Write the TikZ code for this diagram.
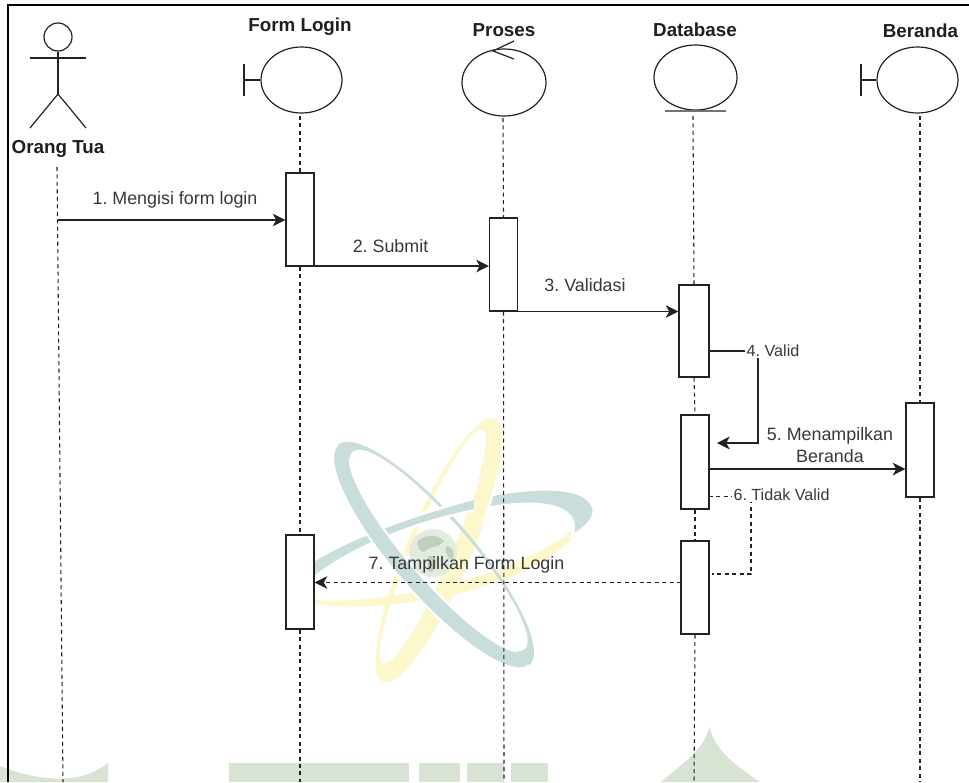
\documentclass[tikz,border=0pt]{standalone}
\usepackage{fontspec}
\setmainfont{Liberation Sans}
\usetikzlibrary{arrows.meta,shapes.geometric}
\definecolor{wmteal}{HTML}{CADDDD}
\definecolor{wmyellow}{HTML}{FDF7CC}
\definecolor{wmgreen}{HTML}{D7E3D3}
\definecolor{wmgreenb}{HTML}{BFD1BA}
\definecolor{inkline}{HTML}{222222}
\tikzset{
  x=0.75pt,y=-0.75pt,
  shapeline/.style={draw=inkline,line width=0.9pt},
  ent/.style={shape=ellipse,shapeline,inner sep=0pt},
  act/.style={shape=rectangle,shapeline,fill=white,inner sep=0pt,minimum width=21pt},
  head/.style={font=\fontsize{14.1}{16}\selectfont\bfseries,text=black!88,inner sep=0pt},
  lbl/.style={font=\fontsize{13.4}{16.5}\selectfont,text=black!78,inner sep=0pt,align=center},
  lblsm/.style={font=\fontsize{12.1}{15}\selectfont,text=black!78,inner sep=1pt,fill=white},
  life/.style={draw=inkline,line width=0.8pt,dash pattern=on 3pt off 2.6pt},
  msg/.style={draw=inkline,line width=0.95pt,-{Stealth[length=9.5pt,width=9.5pt,inset=2.6pt]}},
  msgd/.style={msg,dash pattern=on 3pt off 2.6pt},
  ringA/.style={even odd rule,shift={(433.5,555)},rotate=-49},
  ringC/.style={even odd rule,shift={(439,550)},rotate=67}
}
\newcommand{\ringApath}{(0,0) ellipse [x radius=146,y radius=40] (0,-7) ellipse [x radius=131,y radius=30]}
\newcommand{\ringCpath}{(0,0) ellipse [x radius=143,y radius=32] (1,-7) ellipse [x radius=127,y radius=20]}
\begin{document}
\frenchspacing
\begin{tikzpicture}
\useasboundingbox (0,0) rectangle (969,782);
\fill[white] (0,0) rectangle (969,782);
% ---- watermark
\fill[wmgreen] (0,766) .. controls (25,776) and (75,790) .. (108,763) -- (108,782) -- (0,782) -- cycle;
\fill[wmgreen] (229,763) rectangle (409,782);
\fill[wmgreen] (419,763) rectangle (460,782);
\fill[wmgreen] (467,763) rectangle (504,782);
\fill[wmgreen] (511,763) rectangle (548,782);
\fill[wmgreen] (709.5,727) .. controls (703,752) and (680,765) .. (661,782) -- (760,782) .. controls (735,765) and (716,752) .. (709.5,727) -- cycle;
% yellow ring C
\fill[wmyellow,ringC] \ringCpath;
% thin ring B lower part
\fill[wmyellow] (314,604) .. controls (370,612) and (470,600) .. (530,568) .. controls (565,550) and (585,530) .. (593,508)
  .. controls (580,528) and (555,545) .. (525,558) .. controls (470,585) and (370,605) .. (314,600) -- cycle;
% teal ring A, whole
\fill[wmteal,ringA] \ringApath;
% teal ring B upper band
\filldraw[wmteal,draw=white,line width=2pt] (305,566) .. controls (350,535) and (430,510) .. (480,497)
  .. controls (530,487) and (592,482) .. (594,512) .. controls (592,522) and (585,528) .. (572,536)
  .. controls (580,514) and (560,498) .. (500,506) .. controls (430,516) and (350,545) .. (305,585) -- cycle;
% ring C passes over band B
\begin{scope}
\clip (474,480) rectangle (512,525);
\filldraw[wmyellow,draw=white,line width=1.5pt,ringC] \ringCpath;
\end{scope}
% thick side of ring A passes over band B
\begin{scope}
\clip (289,389) -- (578,721) -- (427,852) -- (138,520) -- cycle;
\filldraw[wmteal,draw=white,line width=1.5pt,ringA] \ringApath;
\end{scope}
% globe
\fill[wmgreen!70!white] (433,553) circle [radius=24];
\fill[wmgreenb] (418,541) .. controls (428,533) and (438,535) .. (444,541) .. controls (438,549) and (428,546) .. (424,552) .. controls (420,552) and (416,546) .. (418,541) -- cycle;
\fill[wmgreenb] (428,556) .. controls (434,554) and (438,560) .. (436,566) .. controls (434,572) and (430,574) .. (428,570) -- cycle;
\fill[wmgreenb] (446,546) .. controls (452,546) and (456,552) .. (452,560) .. controls (448,558) and (444,552) .. (446,546) -- cycle;
% ---- frame
\draw[black,line width=1.2pt] (8,782) -- (8,5) -- (969,5);
% ---- actor
\node[shapeline,shape=circle,minimum size=21pt,inner sep=0pt] (ahead) at (58,37) {};
\coordinate (ahip) at (58,94);
\coordinate (armL) at (30,58);
\coordinate (armR) at (86,58);
\coordinate (legL) at (30,128);
\coordinate (legR) at (86,128);
\draw[shapeline] (ahead.south) -- (ahip);
\draw[shapeline] (armL) -- (armR);
\draw[shapeline] (legL) -- (ahip) -- (legR);
\node[head] (nactor) at (58,149) {Orang Tua};
% ---- entity shapes
\node[ent,minimum width=60.75pt,minimum height=49.5pt] (form) at (301.5,80) {};
\coordinate (formbT) at (244,64);
\coordinate (formbB) at (244,96);
\coordinate (formbM) at (244,80);
\draw[shapeline] (formbT) -- (formbB);
\draw[shapeline] (formbM) -- (form.west);
\node[head] (nform) at (300,27) {Form Login};
\node[ent,minimum width=63pt,minimum height=50.25pt] (proses) at (504,82.5) {};
\coordinate (prA) at (514,41);
\coordinate (prB) at (493,51);
\coordinate (prC) at (514,59);
\draw[shapeline] (prA) -- (prB) -- (prC);
\node[head] (nproses) at (504,30) {Proses};
\node[ent,minimum width=62.25pt,minimum height=48.75pt] (db) at (695.5,77.5) {};
\coordinate (dbL) at (665,111);
\coordinate (dbR) at (726,111);
\draw[draw=black!55,line width=1.5pt] (dbL) -- (dbR);
\node[head] (ndb) at (695,30) {Database};
\node[ent,minimum width=60.75pt,minimum height=49.5pt] (ber) at (917.5,80) {};
\coordinate (berbT) at (861,64);
\coordinate (berbB) at (861,96);
\coordinate (berbM) at (861,80);
\draw[shapeline] (berbT) -- (berbB);
\draw[shapeline] (berbM) -- (ber.west);
\node[head] (nber) at (920.5,31) {Beranda};
% ---- activations
\node[act,minimum height=69.75pt] (f1) at (300,219.5) {};
\node[act,minimum height=70.5pt] (f2) at (300,582) {};
\node[act,minimum height=69.75pt] (p1) at (503.5,264.5) {};
\node[act,minimum width=22.5pt,minimum height=69pt] (d1) at (694,331) {};
\node[act,minimum height=70.5pt] (d2) at (695,462) {};
\node[act,minimum height=69.75pt] (d3) at (695,587.5) {};
\node[act,minimum height=70.5pt] (b1) at (920,450) {};
% ---- lifelines
\coordinate (l0t) at (57,167);
\coordinate (l0b) at (63,782);
\coordinate (l1b) at (300,782);
\coordinate (l2b) at (504,782);
\coordinate (l3b) at (694,782);
\coordinate (l4b) at (920,782);
\coordinate (dbtop) at (693,116);
\coordinate (bertop) at (920,116);
\coordinate (formtop) at (300,116);
\coordinate (prostop) at (503,118);
\draw[life] (l0t) -- (l0b);
\draw[life] (formtop) -- (f1.north);
\draw[life] (f1.south) -- (f2.north);
\draw[life] (f2.south) -- (l1b);
\draw[life] (prostop) -- (p1.north);
\draw[life] (p1.south) -- (l2b);
\draw[life] (dbtop) -- (d1.north);
\draw[life] (d1.south) -- (d2.north);
\draw[life] (d2.south) -- (d3.north);
\draw[life] (d3.south) -- (l3b);
\draw[life] (bertop) -- (b1.north);
\draw[life] (b1.south) -- (l4b);
% ---- messages
\coordinate (m1s) at (58,220);
\draw[msg] (m1s) -- (m1s -| f1.west);
\node[lbl] (t1) at (175,200) {1. Mengisi form login};
\coordinate (m2s) at (314,266);
\draw[msg] (m2s) -- (m2s -| p1.west);
\node[lbl] (t2) at (390.5,246) {2. Submit};
\coordinate (m3s) at (518,311.5);
\draw[msg] (m3s) -- (m3s -| d1.west);
\node[lbl] (t3) at (585,285) {3. Validasi};
% 4
\coordinate (m4s) at (709,351);
\coordinate (m4c) at (758,351);
\coordinate (m4d) at (758,443);
\coordinate (m4e) at (717,443);
\draw[msg] (m4s) -- (m4c) -- (m4d) -- (m4e);
\node[lblsm] (t4) at (773,350.5) {4. Valid};
% 5
\coordinate (m5s) at (709,469);
\draw[msg] (m5s) -- (m5s -| b1.west);
\node[lbl] (t5) at (830,445) {5. Menampilkan\\Beranda};
% 6
\coordinate (m6s) at (709,496.5);
\coordinate (m6c) at (751,496.5);
\coordinate (m6d) at (751,574);
\coordinate (m6e) at (712,574);
\draw[life] (m6s) -- (m6c) -- (m6d) -- (m6e);
\node[lblsm] (t6) at (781.5,495) {6. Tidak Valid};
% 7
\coordinate (m7s) at (681,582.5);
\draw[msgd] (m7s) -- (m7s -| f2.east);
\node[lbl] (t7) at (466.5,565) {7. Tampilkan Form Login};
\end{tikzpicture}
\end{document}
